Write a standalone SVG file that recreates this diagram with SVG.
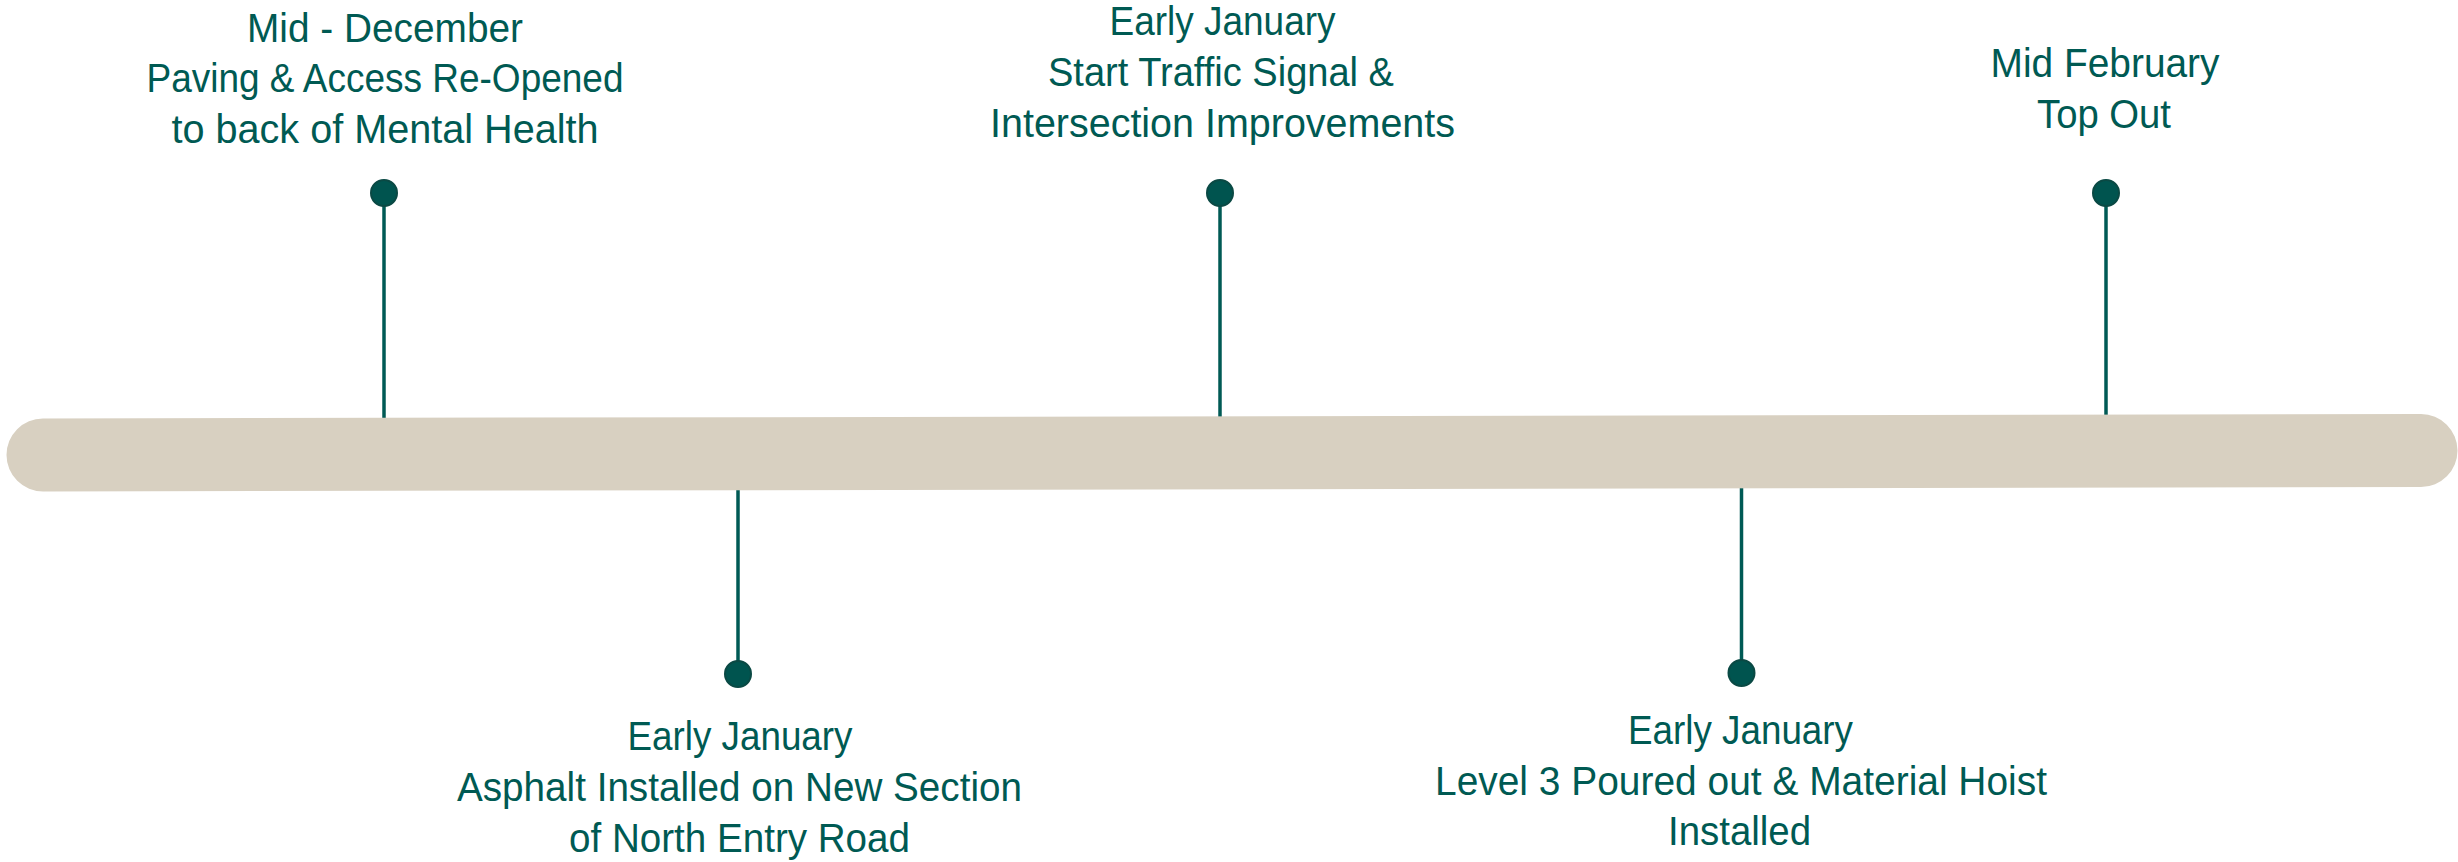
<svg xmlns="http://www.w3.org/2000/svg" width="2458" height="862" viewBox="0 0 2458 862">
<style>
.lbl{font-family:"Liberation Sans",Arial,sans-serif;font-size:40px;fill:#005A53;text-anchor:middle}
.stem{stroke:#005A55;stroke-width:3.5;fill:none}
.dot{fill:#00544F;stroke:#0A4944;stroke-width:2}
</style>
<rect width="2458" height="862" fill="#FFFFFF"/>
<g id="connectors">
<line class="stem" x1="384" y1="193" x2="384" y2="420"/>
<line class="stem" x1="1220" y1="193" x2="1220" y2="418"/>
<line class="stem" x1="2106" y1="193" x2="2106" y2="416"/>
<line class="stem" x1="738" y1="488" x2="738" y2="674"/>
<line class="stem" x1="1741.5" y1="486" x2="1741.5" y2="673"/>
</g>
<g id="timeline">
<line x1="43" y1="455" x2="2421" y2="450.5" stroke="#D8D0C1" stroke-width="73" stroke-linecap="round"/>
</g>
<g id="node1">
<circle class="dot" cx="384" cy="193" r="13"/>
<text class="lbl"><tspan x="385" y="41.5" textLength="276" lengthAdjust="spacingAndGlyphs">Mid - December</tspan><tspan x="385" y="92" textLength="477" lengthAdjust="spacingAndGlyphs">Paving &amp; Access Re-Opened</tspan><tspan x="385" y="143" textLength="427" lengthAdjust="spacingAndGlyphs">to back of Mental Health</tspan></text>
</g>
<g id="node2">
<circle class="dot" cx="738" cy="674" r="13"/>
<text class="lbl"><tspan x="740" y="750" textLength="225" lengthAdjust="spacingAndGlyphs">Early January</tspan><tspan x="739.5" y="801" textLength="565" lengthAdjust="spacingAndGlyphs">Asphalt Installed on New Section</tspan><tspan x="739.5" y="852" textLength="341" lengthAdjust="spacingAndGlyphs">of North Entry Road</tspan></text>
</g>
<g id="node3">
<circle class="dot" cx="1220" cy="193" r="13"/>
<text class="lbl"><tspan x="1222.5" y="35" textLength="226" lengthAdjust="spacingAndGlyphs">Early January</tspan><tspan x="1221" y="86" textLength="346" lengthAdjust="spacingAndGlyphs">Start Traffic Signal &amp;</tspan><tspan x="1222.5" y="137" textLength="465" lengthAdjust="spacingAndGlyphs">Intersection Improvements</tspan></text>
</g>
<g id="node4">
<circle class="dot" cx="1741.5" cy="673" r="13"/>
<text class="lbl"><tspan x="1740.5" y="744" textLength="225" lengthAdjust="spacingAndGlyphs">Early January</tspan><tspan x="1741" y="795" textLength="612" lengthAdjust="spacingAndGlyphs">Level 3 Poured out &amp; Material Hoist</tspan><tspan x="1739.5" y="845" textLength="143" lengthAdjust="spacingAndGlyphs">Installed</tspan></text>
</g>
<g id="node5">
<circle class="dot" cx="2106" cy="193" r="13"/>
<text class="lbl"><tspan x="2105" y="76.5" textLength="229" lengthAdjust="spacingAndGlyphs">Mid February</tspan><tspan x="2104" y="127.5" textLength="134" lengthAdjust="spacingAndGlyphs">Top Out</tspan></text>
</g>
</svg>
